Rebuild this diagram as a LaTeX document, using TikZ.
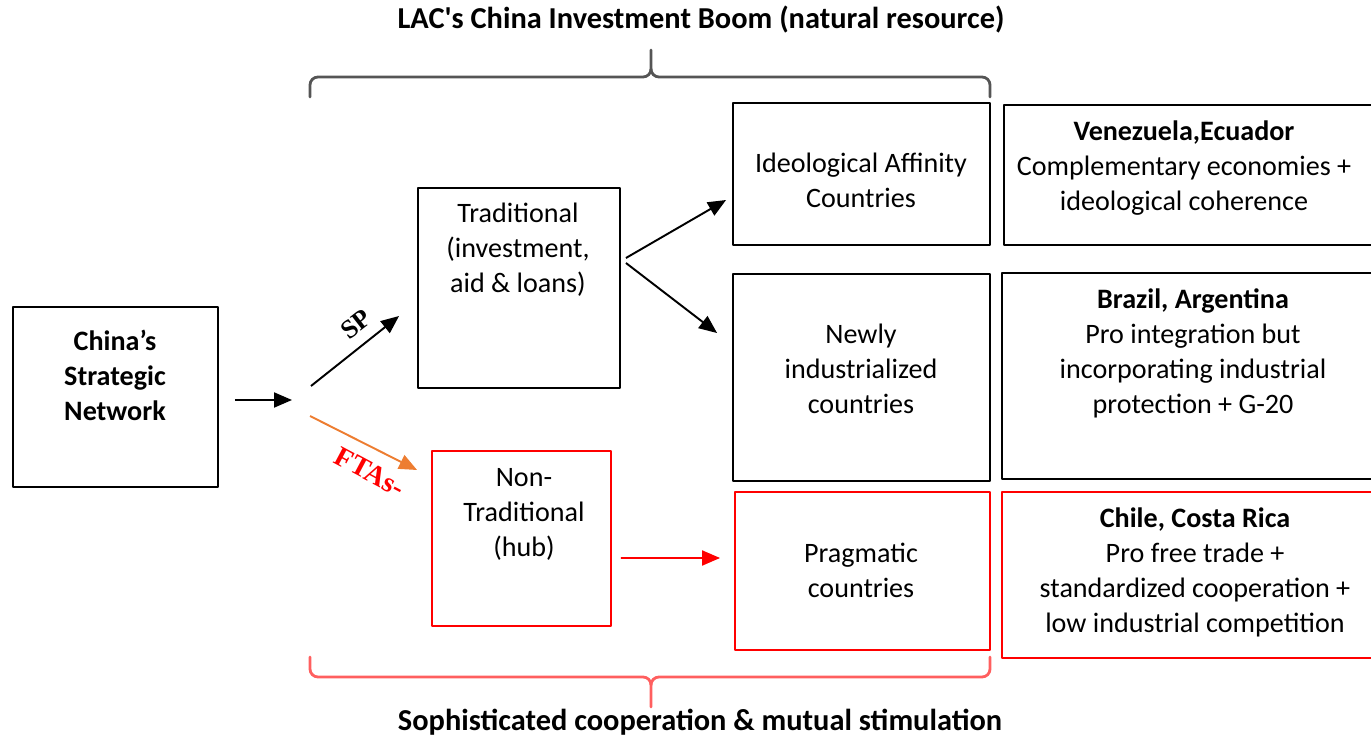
\documentclass[tikz,border=0pt]{standalone}
\usepackage{fontspec}
\setmainfont{Carlito}
\newfontfamily\serifbf{Liberation Serif}
\usetikzlibrary{arrows.meta}

\definecolor{boxred}{RGB}{255,0,0}
\definecolor{ftaorange}{RGB}{237,125,49}
\definecolor{bracegray}{RGB}{85,85,85}
\definecolor{bracered}{RGB}{255,95,95}

\tikzset{
  box/.style={draw, line width=1.1pt, inner sep=0pt},
  redbox/.style={box, draw=boxred},
  txt/.style={align=center, inner sep=0pt},
  arr/.style={->, line width=1.1pt},
  bracepath/.style={line width=1.6pt, line cap=round},
  titletxt/.style={txt, font=\fontsize{17.3}{20}\selectfont\bfseries}
}

\begin{document}
\begin{tikzpicture}[x=0.02cm, y=-0.02cm, font=\fontsize{16}{19.9}\selectfont, line join=round, >={Triangle[length=0.36cm,width=0.3cm]}]
	\useasboundingbox (0,0) rectangle (1371,739);
	% boxes
	\node[box, minimum width=4.1cm, minimum height=3.6cm] (china) at (115.5,397) {};
	\node[box, minimum width=4.04cm, minimum height=4cm] (trad) at (519,288) {};
	\node[redbox, minimum width=3.58cm, minimum height=3.5cm] (nontrad) at (521.5,538.5) {};
	\node[box, minimum width=5.14cm, minimum height=2.84cm] (ideo) at (861.5,174) {};
	\node[box, minimum width=5.14cm, minimum height=4.14cm] (newly) at (861.5,377.5) {};
	\node[redbox, minimum width=5.1cm, minimum height=3.16cm] (prag) at (862.5,571) {};
	\node[box, minimum width=7.52cm, minimum height=2.8cm] (venez) at (1192,175) {};
	\node[box, minimum width=7.56cm, minimum height=4.12cm] (brazil) at (1191,376) {};
	\node[redbox, minimum width=7.56cm, minimum height=3.32cm] (chile) at (1191,575) {};
	% texts
	\node[txt, font=\fontsize{16}{19.9}\selectfont\bfseries] (chinatxt) at (115,375) {China’s\\Strategic\\Network};
	\node[txt] (tradtxt) at (518,250) {Traditional\\(investment,\\aid \& loans)};
	\node[txt] (nontradtxt) at (524,514) {Non-\\Traditional\\(hub)};
	\node[txt] (ideotxt) at (861,180) {Ideological Affinity\\Countries};
	\node[txt] (newlytxt) at (861,369) {Newly\\industrialized\\countries};
	\node[txt] (pragtxt) at (861,570) {Pragmatic\\countries};
	\node[txt] (veneztxt) at (1184,168) {\textbf{Venezuela,Ecuador}\\Complementary economies +\\ideological coherence};
	\node[txt] (braziltxt) at (1193,353) {\textbf{Brazil, Argentina}\\Pro integration but\\incorporating industrial\\protection + G-20};
	\node[txt] (chiletxt) at (1195,572) {\textbf{Chile, Costa Rica}\\Pro free trade +\\standardized cooperation +\\low industrial competition};
	% arrows
	\coordinate (fork) at (300,400);
	\draw[arr] ([shift={(16,3)}]china.east) -- ([shift={(-8,0)}]fork);
	\draw[arr] ([shift={(11,-14)}]fork) -- ([shift={(-18,28)}]trad.west);
	\draw[arr, ftaorange] ([shift={(10,16)}]fork) -- ([shift={(-14,-68.5)}]nontrad.west);
	\draw[arr] ([shift={(5,-30)}]trad.east) -- ([shift={(-6,26)}]ideo.west);
	\draw[arr] ([shift={(5,-25)}]trad.east) -- ([shift={(-15,-44.5)}]newly.west);
	\draw[arr, boxred] ([shift={(9,19.5)}]nontrad.east) -- ([shift={(-14,-13)}]prag.west);
	\node[rotate=38, inner sep=0pt, font=\fontsize{15}{18}\serifbf\bfseries] (sp) at (356,324) {SP};
	\node[rotate=-28, inner sep=0pt, text=boxred, font=\fontsize{16}{19}\serifbf\bfseries] (ftas) at (370,472) {FTAs-};
	% braces
	\draw[bracepath, bracegray] (310,97) -- (310,85) to[out=90,in=180] (318,77) -- (643,77) to[out=0,in=-90] (651,69) -- (651,50);
	\draw[bracepath, bracegray] (651,69) to[out=-90,in=180] (659,77) -- (982,77) to[out=0,in=90] (990,85) -- (990,97);
	\draw[bracepath, bracered] (310,657) -- (310,669) to[out=-90,in=180] (318,677) -- (643,677) to[out=0,in=90] (651,685) -- (651,707);
	\draw[bracepath, bracered] (651,685) to[out=90,in=180] (659,677) -- (982,677) to[out=0,in=-90] (990,669) -- (990,657);
	\node[titletxt] (toptitle) at (701,20) {LAC\textquotesingle s China Investment Boom (natural resource)};
	\node[titletxt] (bottitle) at (700,722) {Sophisticated cooperation \& mutual stimulation};
\end{tikzpicture}
\end{document}
